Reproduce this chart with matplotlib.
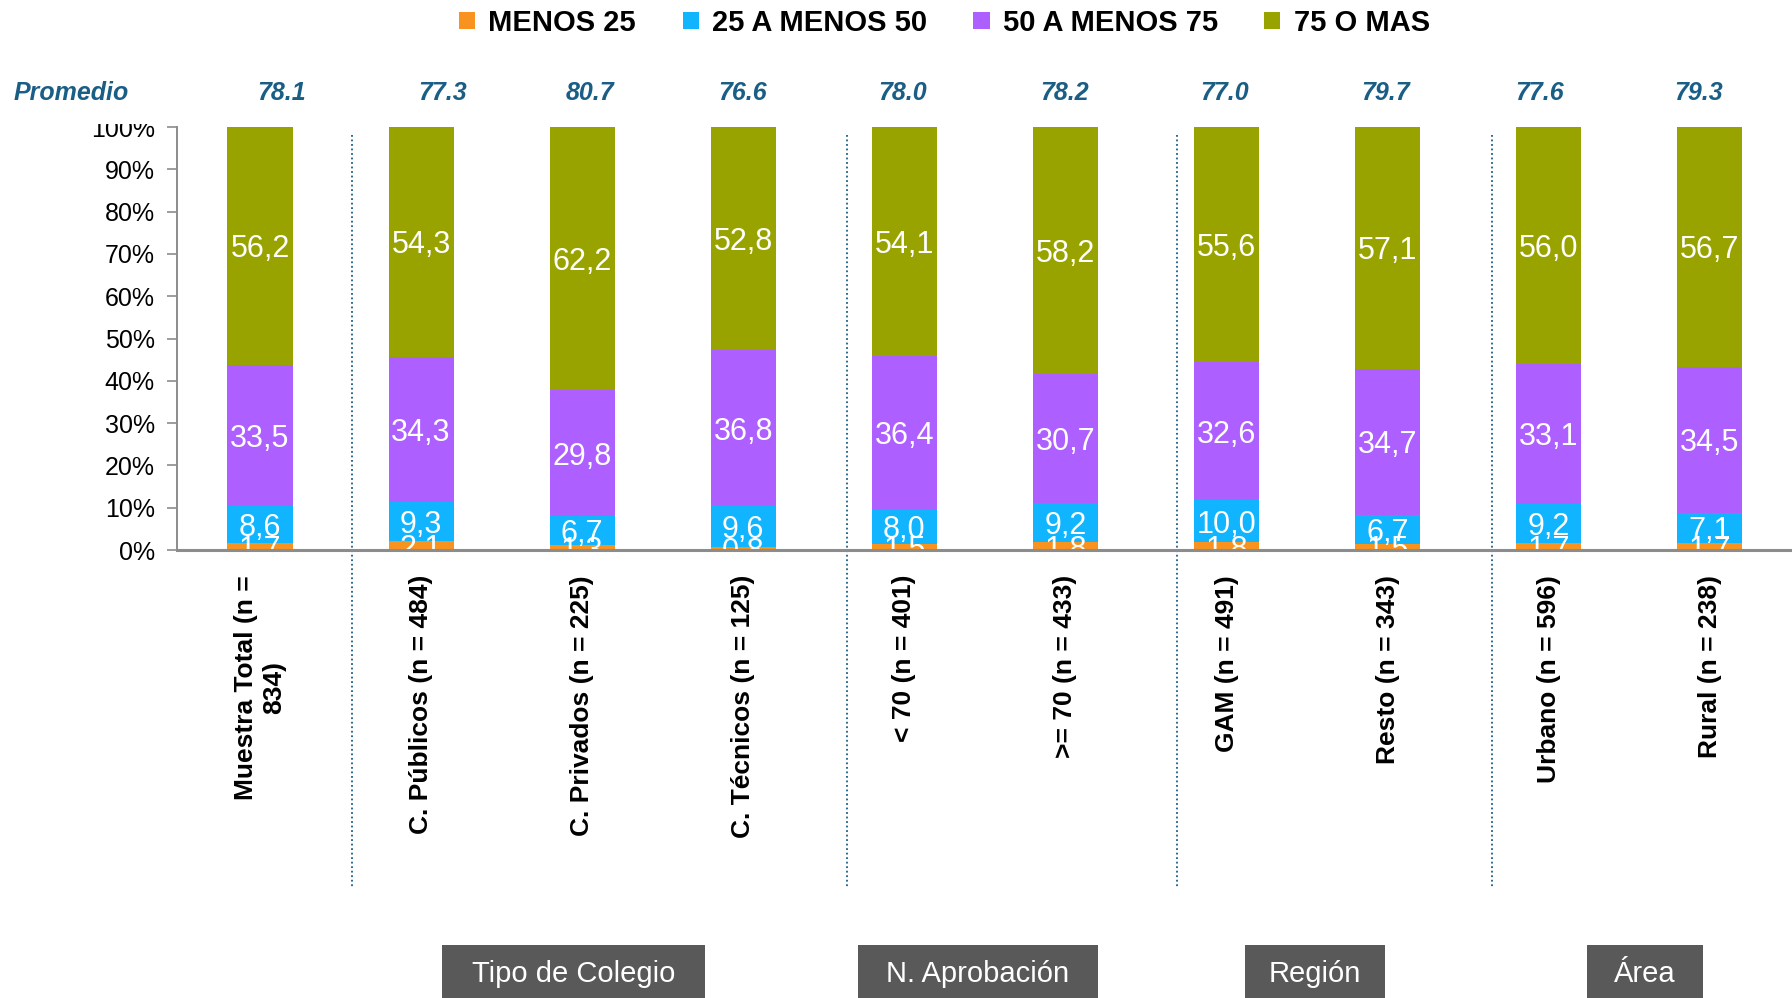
import matplotlib
matplotlib.use('Agg')
import matplotlib.pyplot as plt
from matplotlib.patches import Patch, Rectangle
from matplotlib.transforms import Bbox, TransformedBbox, blended_transform_factory

plt.rcParams['font.family'] = ['Liberation Sans', 'DejaVu Sans']

# datos
categorias = ['Muestra Total (n =\n834)', 'C. Públicos (n = 484)', 'C. Privados (n = 225)',
              'C. Técnicos (n = 125)', '< 70 (n = 401)', '>= 70 (n = 433)',
              'GAM (n = 491)', 'Resto (n = 343)', 'Urbano (n = 596)', 'Rural (n = 238)']
series = ['MENOS 25', '25 A MENOS 50', '50 A MENOS 75', '75 O MAS']
menos_25 = [1.7, 2.1, 1.3, 0.8, 1.5, 1.8, 1.8, 1.5, 1.7, 1.7]
de_25_a_50 = [8.6, 9.3, 6.7, 9.6, 8.0, 9.2, 10.0, 6.7, 9.2, 7.1]
de_50_a_75 = [33.5, 34.3, 29.8, 36.8, 36.4, 30.7, 32.6, 34.7, 33.1, 34.5]
mas_75 = [56.2, 54.3, 62.2, 52.8, 54.1, 58.2, 55.6, 57.1, 56.0, 56.7]
promedio = [78.1, 77.3, 80.7, 76.6, 78.0, 78.2, 77.0, 79.7, 77.6, 79.3]
grupos = ['Tipo de Colegio', 'N. Aprobación', 'Región', 'Área']
yticks = [0, 10, 20, 30, 40, 50, 60, 70, 80, 90, 100]

# layout
colores = ['#F7931E', '#10B4FF', '#AE5FFF', '#99A300']
azul = '#1A5E86'
prom_x = [0.131, 1.131, 2.046, 2.996, 3.989, 4.996, 5.989, 6.989, 7.943, 8.933]
sep_x = [0.571, 3.644, 5.692, 7.647]
cajas = [(442, 705), (858, 1098), (1245, 1385), (1587, 1703)]
W, H = 1792, 998

fig = plt.figure(figsize=(W / 100, H / 100), dpi=100)
ax = fig.add_axes([177 / W, 1 - 550 / H, (W - 177) / W, 423 / H])

x = list(range(len(categorias)))
base = [0.0] * len(x)
for vals, col in zip([menos_25, de_25_a_50, de_50_a_75, mas_75], colores):
    ax.bar(x, vals, bottom=base, width=0.404, color=col, zorder=1)
    for xi, b, v in zip(x, base, vals):
        ax.text(xi, b + v / 2, f'{v:.1f}'.replace('.', ','), ha='center',
                va='center_baseline', color='white', fontsize=22, zorder=2)
    base = [b + v for b, v in zip(base, vals)]

ax.set_xlim(-0.515, 9.51)
ax.set_ylim(0, 100)
ax.set_yticks(yticks)
ax.set_yticklabels([f'{t}%' for t in yticks], fontsize=18)
ax.set_xticks(x)
ax.set_xticklabels(categorias, rotation=90, fontsize=19, fontweight='bold',
                   va='top', ha='center', multialignment='center')
ax.tick_params(axis='x', length=0, pad=18)
ax.tick_params(axis='y', length=7, width=1.2, color='#8C8C8C', pad=9)
for s in ['top', 'right']:
    ax.spines[s].set_visible(False)
ax.spines['left'].set_color('#8C8C8C')
ax.spines['left'].set_linewidth(1.4)
ax.spines['bottom'].set_color('#8C8C8C')
ax.spines['bottom'].set_linewidth(2.2)

# separadores punteados
trans = blended_transform_factory(ax.transData, ax.transAxes)
for sx in sep_x:
    ax.plot([sx, sx], [(550 - 135) / 423, (550 - 888) / 423], transform=trans,
            color=azul, linestyle=(0, (1, 1.5)), linewidth=1.3, clip_on=False)

# promedios
fig.text(14 / W, 1 - 93 / H, 'Promedio', color=azul, fontsize=18,
         fontweight='bold', fontstyle='italic', ha='left', va='center')
ptrans = blended_transform_factory(ax.transData, fig.transFigure)
for px, p in zip(prom_x, promedio):
    ax.text(px, 1 - 93 / H, f'{p:.1f}', transform=ptrans, color=azul, fontsize=18,
            fontweight='bold', fontstyle='italic', ha='center', va='center')

# leyenda
handles = [Patch(facecolor=c, edgecolor='none') for c in colores]
leg = fig.legend(handles, series, loc='center', bbox_to_anchor=(0.527, 1 - 23 / H),
                 ncol=4, frameon=False, handlelength=0.55, handleheight=0.55,
                 handletextpad=0.45, columnspacing=1.6,
                 prop={'size': 21, 'weight': 'bold'})

# cajas de grupos
for (x0, x1), g in zip(cajas, grupos):
    fig.patches.append(Rectangle((x0 / W, 0), (x1 - x0) / W, 53 / H,
                                 transform=fig.transFigure, facecolor='#595959',
                                 edgecolor='none'))
    fig.text((x0 + x1) / 2 / W, 1 - 974 / H, g, color='white', fontsize=21,
             ha='center', va='center')

# el 100% queda recortado arriba, como en el original
fig.canvas.draw()
clip = TransformedBbox(Bbox([[0, 0], [1, 1 - 124 / H]]), fig.transFigure)
for t in ax.get_yticklabels():
    t.set_clip_box(clip)
    t.set_clip_on(True)

fig.savefig('out.png', dpi=100)
